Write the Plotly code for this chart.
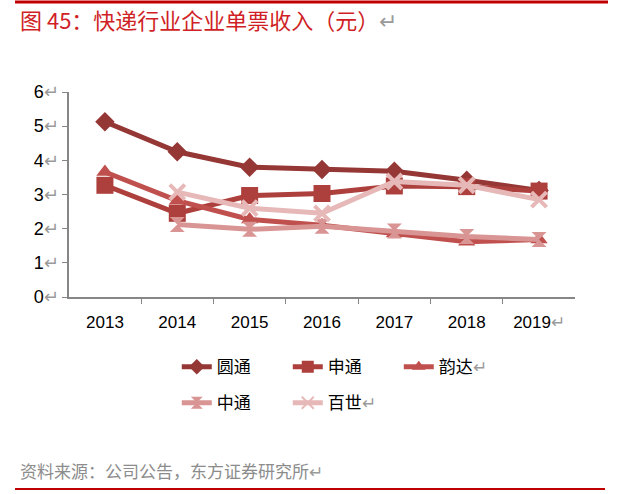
import plotly.graph_objects as go

years = ["2013", "2014", "2015", "2016", "2017", "2018", "2019"]
yuantong = [5.13, 4.25, 3.80, 3.73, 3.68, 3.42, 3.12]
shentong = [3.27, 2.45, 2.97, 3.03, 3.25, 3.23, 3.10]
yunda = [3.66, 2.82, 2.27, 2.10, 1.86, 1.62, 1.68]
zhongtong = [None, 2.12, 1.98, 2.07, 1.93, 1.77, 1.68]
baishi = [None, 3.07, 2.60, 2.45, 3.38, 3.27, 2.85]

y_ticks = [0, 1, 2, 3, 4, 5, 6]
arrow = "<span style='color:#9a9a9a'>↵</span>"
x_ticktext = [y if y != "2019" else y + arrow for y in years]
y_ticktext = [f"{v}{arrow}" for v in y_ticks]

series = [
    ("圆通", yuantong, "#953735", "diamond", 15, "legend"),
    ("申通", shentong, "#AD3F3C", "square", 17, "legend"),
    ("韵达" + arrow, yunda, "#C0504D", "triangle-up", 15, "legend"),
    ("中通", zhongtong, "#D99594", "hourglass", 15, "legend2"),
    ("百世" + arrow, baishi, "#E6B9B8", "x-thin-open", 15, "legend2"),
]

fig = go.Figure()
for name, vals, color, sym, size, lg in series:
    mk = dict(symbol=sym, size=size, color=color)
    if sym == "x-thin-open":
        mk["line"] = dict(color=color, width=4)
    fig.add_trace(go.Scatter(
        x=years, y=vals, name=name, mode="lines+markers",
        line=dict(color=color, width=5),
        marker=mk, legend=lg, connectgaps=False,
    ))

font_cjk = "Noto Sans CJK SC, Liberation Sans, Arial, sans-serif"
fig.update_layout(
    width=620, height=494,
    margin=dict(l=69, r=45, t=92, b=197),
    paper_bgcolor="white", plot_bgcolor="white",
    font=dict(family="Liberation Sans, Arial, sans-serif", size=17, color="black"),
    showlegend=True,
    legend=dict(orientation="h", x=0.213, y=-0.255, xanchor="left", yanchor="top",
                font=dict(family=font_cjk, size=17, color="black"),
                entrywidth=66, entrywidthmode="pixels", itemclick=False,
                itemsizing="constant"),
    legend2=dict(orientation="h", x=0.213, y=-0.43, xanchor="left", yanchor="top",
                 font=dict(family=font_cjk, size=17, color="black"),
                 entrywidth=66, entrywidthmode="pixels", itemclick=False,
                 itemsizing="constant"),
)
fig.update_xaxes(
    type="category", tickson="boundaries", ticks="outside", ticklen=5,
    tickcolor="#868686", showline=True, linecolor="#868686", linewidth=1.5,
    showgrid=False, tickvals=years, ticktext=x_ticktext, ticklabelstandoff=9,
    tickfont=dict(size=17, color="black"),
)
fig.update_yaxes(
    range=[0, 6], tickvals=y_ticks, ticktext=y_ticktext, ticks="outside", ticklen=5,
    tickcolor="#868686", showline=True, linecolor="#868686", linewidth=1.5,
    showgrid=False, zeroline=False, tickfont=dict(size=18, color="black"),
)

fig.add_annotation(
    text="图 45：快递行业企业单票收入（元）" + arrow,
    xref="paper", yref="paper", x=-51/506, y=1 + 73/205, xanchor="left", yanchor="middle",
    showarrow=False, font=dict(family=font_cjk, size=22, color="#D01F26"),
)
fig.add_annotation(
    text="资料来源：公司公告，东方证券研究所" + arrow,
    xref="paper", yref="paper", x=-51/506, y=-(470-297)/205, xanchor="left", yanchor="middle",
    showarrow=False, font=dict(family=font_cjk, size=17, color="#8c8c8c"),
)
fig.add_shape(type="line", xref="paper", yref="paper",
              x0=-54/506, x1=(608-69)/506, y0=1 + 90/205, y1=1 + 90/205,
              line=dict(color="#C00000", width=3))
fig.add_shape(type="line", xref="paper", yref="paper",
              x0=-54/506, x1=(605-69)/506, y0=-(489-297)/205, y1=-(489-297)/205,
              line=dict(color="#C00000", width=2))

fig.write_html("out.html")
